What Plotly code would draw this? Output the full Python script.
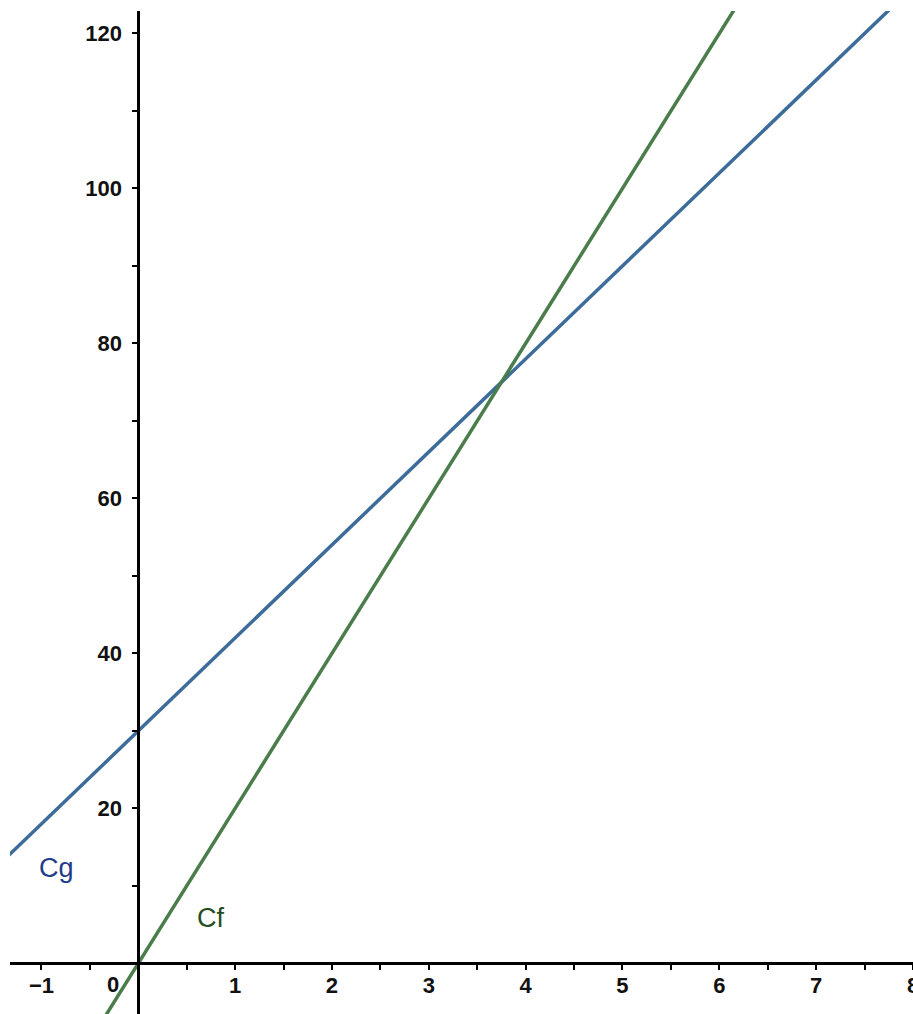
import plotly.graph_objects as go

# Data
line_x = [-1.5, 8.5]
cf_y = [-30, 170]     # Cf: passes through (0,0) and (3.75,75)
cg_y = [12, 132]      # Cg: passes through (0,30) and (3.75,75)

x_range = [-1.325, 8.0]
y_range = [-6.54, 122.9]
x_tick_vals = [-1, 1, 2, 3, 4, 5, 6, 7, 8]
y_tick_vals = [20, 40, 60, 80, 100, 120]

cf_color = "#4b7c4b"
cg_color = "#3e6c9a"

tick_font = dict(family="Liberation Sans", size=22, color="#111111", weight="bold")

fig = go.Figure()
fig.add_trace(go.Scatter(x=line_x, y=cg_y, mode="lines",
                         line=dict(color=cg_color, width=3.5), hoverinfo="skip"))
fig.add_trace(go.Scatter(x=line_x, y=cf_y, mode="lines",
                         line=dict(color=cf_color, width=3.5), hoverinfo="skip"))

x_pos = (0 - y_range[0]) / (y_range[1] - y_range[0])
y_pos = (0 - x_range[0]) / (x_range[1] - x_range[0])

fig.update_layout(
    width=913, height=1014,
    margin=dict(l=10, r=0, t=11, b=0, autoexpand=False),
    paper_bgcolor="white", plot_bgcolor="white",
    showlegend=False,
    xaxis=dict(range=x_range, anchor="free", position=x_pos, automargin=False,
               showgrid=False, zeroline=False,
               showline=True, linecolor="black", linewidth=3,
               tickmode="array", tickvals=x_tick_vals,
               ticks="outside", ticklen=5, tickwidth=2, tickcolor="black",
               minor=dict(dtick=0.5, tick0=0, ticks="outside", ticklen=5, tickwidth=2,
                          tickcolor="black", showgrid=False),
               tickfont=tick_font, ticklabelstandoff=-4,
               ticklabeloverflow="allow"),
    yaxis=dict(range=y_range, anchor="free", position=y_pos, automargin=False,
               showgrid=False, zeroline=False,
               showline=True, linecolor="black", linewidth=3,
               tickmode="array", tickvals=y_tick_vals,
               ticks="outside", ticklen=5, tickwidth=2, tickcolor="black",
               minor=dict(dtick=10, tick0=0, ticks="outside", ticklen=5, tickwidth=2,
                          tickcolor="black", showgrid=False),
               tickfont=tick_font, ticklabelstandoff=6,
               ticklabeloverflow="allow"),
)

fig.add_annotation(x=0, y=0, text="0", showarrow=False, xanchor="center", yanchor="middle",
                   xshift=-25, yshift=-21, font=tick_font)
fig.add_annotation(x=-0.84, y=12.3, text="Cg", showarrow=False,
                   font=dict(family="Liberation Sans", size=27, color="#1f3c88"))
fig.add_annotation(x=0.75, y=5.85, text="Cf", showarrow=False,
                   font=dict(family="Liberation Sans", size=27, color="#1f4f1f"))

fig.write_html(
    "out.html",
    config={"displayModeBar": False},
    post_script="document.documentElement.style.overflow='hidden';"
                "document.body.style.margin='0';document.body.style.overflow='hidden';",
)
